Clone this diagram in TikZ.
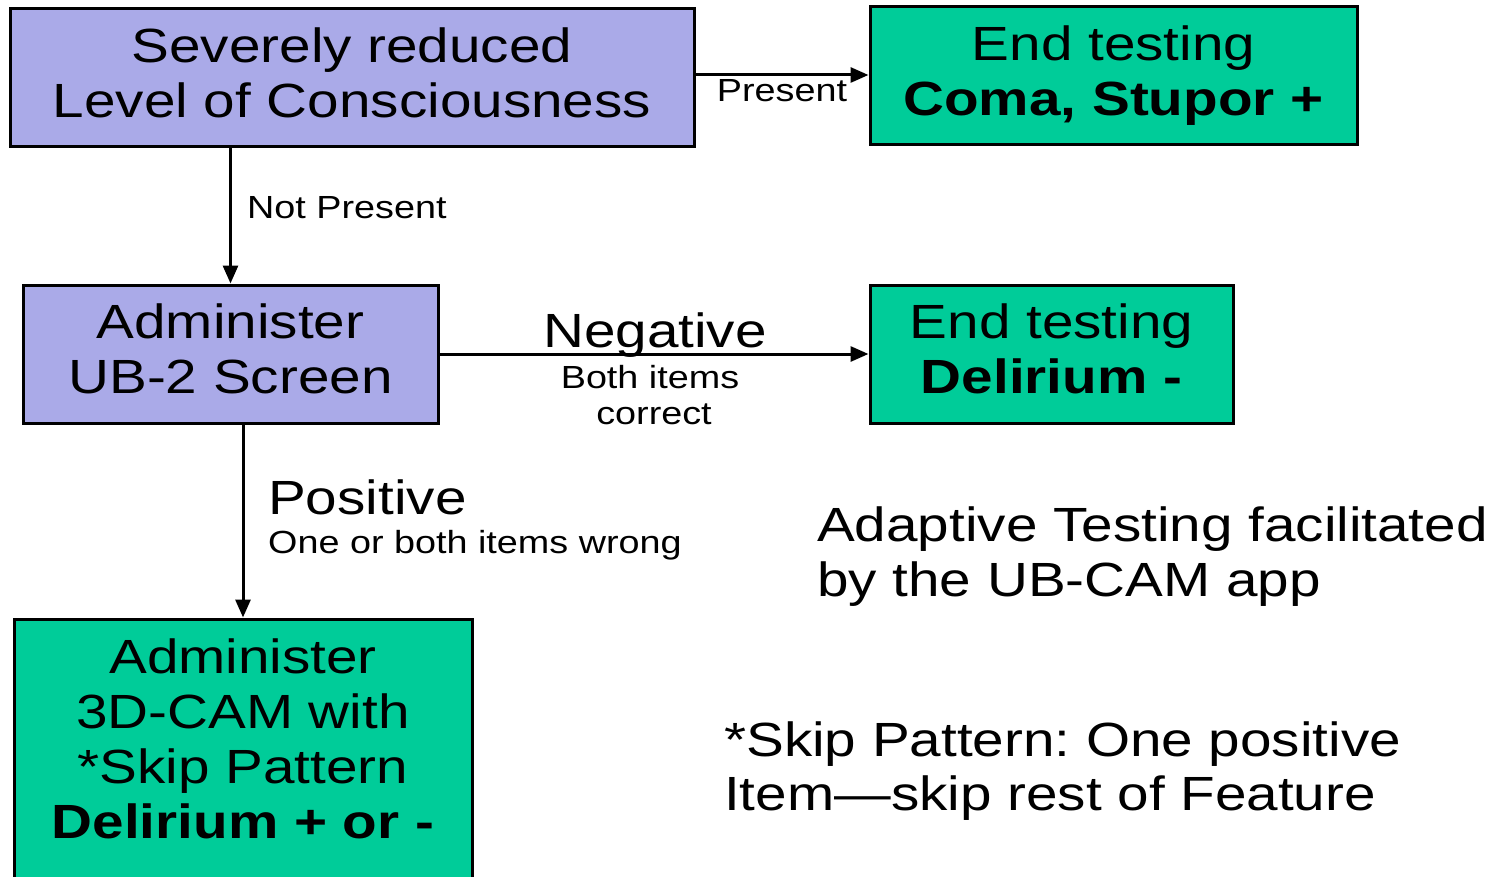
\documentclass[tikz,border=0pt]{standalone}
\usepackage{fontspec}
\setmainfont{Liberation Sans}[FakeStretch=1.18]
\frenchspacing
\usetikzlibrary{arrows.meta}
\definecolor{boxpurple}{RGB}{170,170,232}
\definecolor{boxgreen}{RGB}{0,204,153}
\begin{document}
\frenchspacing
\begin{tikzpicture}[x=1pt,y=-1pt,
  box/.style={draw=black, line width=3pt, rectangle, inner sep=0pt, align=center, minimum height=138pt, text depth=10pt, font=\fontsize{48}{55}\selectfont},
  pbox/.style={box, fill=boxpurple},
  gbox/.style={box, fill=boxgreen},
  arr/.style={line width=3pt, -{Triangle[length=18pt,width=15pt]}},
  big/.style={font=\fontsize{48}{55}\selectfont, inner sep=0pt},
  small/.style={font=\fontsize{32}{36}\selectfont, inner sep=0pt}]
\useasboundingbox (0,0) rectangle (1503,877);
\clip (0,0) rectangle (1503,877);
% boxes
\node[pbox, minimum width=684pt] (A) at (352,78) {Severely reduced\\Level of Consciousness};
\node[gbox, minimum width=487pt] (B) at (1113.5,76) {End testing\\\textbf{Coma, Stupor +}};
\node[pbox, minimum width=415pt] (C) at (230.5,354) {Administer\\UB-2 Screen};
\node[gbox, minimum width=363pt] (D) at (1051.5,354) {End testing\\\textbf{Delirium -}};
\node[gbox, minimum width=458pt, minimum height=290pt] (E) at (243,764) {};
\node[big, align=center] (Etext) at (243,739) {Administer\\3D-CAM with\\*Skip Pattern\\\textbf{Delirium + or -}};
% connectors
\draw[arr] ([yshift=3pt]A.east) -- ([yshift=3pt]A.east -| B.west);
\draw[arr] (A.south -| C.north) -- (C.north);
\draw[arr] (C.east) -- (D.west);
\draw[arr] (C.south -| E.north) -- (E.north);
% labels
\node[small, anchor=base] (present) at (782,102) {Present};
\node[small, anchor=base west] (notpresent) at (247,219) {Not Present};
\node[big, anchor=base] (neg) at (655,347) {Negative};
\node[small, anchor=base] (both) at (650,388) {Both items};
\node[small, anchor=base] (correct) at (654,424) {correct};
\node[big, anchor=base west] (pos) at (268,514) {Positive};
\node[small, anchor=base west] (posdesc) at (268,553) {One or both items wrong};
\node[big, anchor=base west] (adapt1) at (817,541) {Adaptive Testing facilitated};
\node[big, anchor=base west] (adapt2) at (817,596) {by the UB-CAM app};
\node[big, anchor=base west] (skip1) at (724,756) {*Skip Pattern: One positive};
\node[big, anchor=base west] (skip2) at (724,810) {Item—skip rest of Feature};
\end{tikzpicture}
\end{document}
